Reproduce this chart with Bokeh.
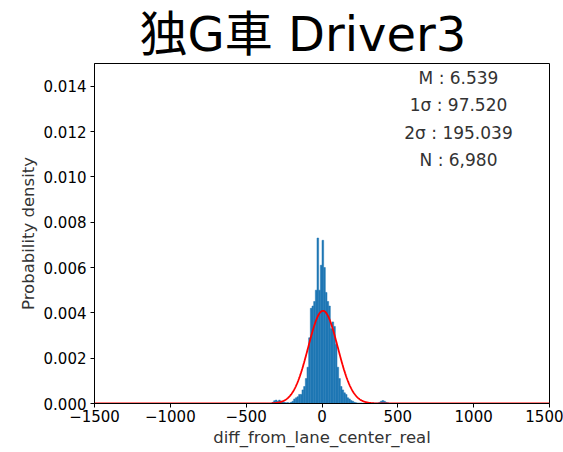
import numpy as np
from bokeh.plotting import figure
from bokeh.models import (Range1d, FixedTicker, NumeralTickFormatter, CustomJSTickFormatter,
                          Title)
from bokeh.core.properties import value
from bokeh.embed import file_html
from bokeh.resources import INLINE

# ---- data ----
title_text = "独G車 Driver3"
mean_val = 6.539
sigma_val = 97.520
two_sigma_val = 195.039
n_val = 6980
bin_start = -330.0
bin_width = 11.0
densities = [
    0.00005, 0.00012, 0.00015, 0.00010, 0.00015, 0.00010, 0.00008, 0.00005,  # -330..
    0.00003, 0.00004, 0.00002, 0.00005, 0.00010, 0.00020, 0.00025, 0.00030,
    0.00040, 0.00040, 0.00060, 0.00075, 0.00110, 0.00160, 0.00290, 0.00420,
    0.00430, 0.00450, 0.00500, 0.00730, 0.00500, 0.00610, 0.00720, 0.00600,
    0.00490, 0.00450, 0.00430, 0.00330, 0.00360, 0.00340, 0.00260, 0.00160,
    0.00110, 0.00075, 0.00060, 0.00047, 0.00040, 0.00025, 0.00020, 0.00013,
    0.00010, 0.00005, 0.00003, 0.00002, 0.00002, 0.00002, 0.00001, 0.00001,
    0.00001, 0.00001, 0.00001, 0.00001, 0.00002, 0.00002, 0.00002, 0.00002,
    0.00005, 0.00010, 0.00013, 0.00010, 0.00005, 0.00003,
]
x_ticks = [-1500, -1000, -500, 0, 500, 1000, 1500]
y_ticks = [0.000, 0.002, 0.004, 0.006, 0.008, 0.010, 0.012, 0.014]
stat_lines = [
    "M : {:.3f}".format(mean_val),
    "1σ : {:.3f}".format(sigma_val),
    "2σ : {:.3f}".format(two_sigma_val),
    "N : {:,}".format(n_val),
]
stat_y = [0.01435, 0.01316, 0.01192, 0.01073]

# ---- derived ----
dens = np.array(densities)
lefts = bin_start + bin_width * np.arange(len(dens))
rights = lefts + bin_width
xs = np.linspace(-1500, 1500, 1201)
pdf = np.exp(-0.5 * ((xs - mean_val) / sigma_val) ** 2) / (sigma_val * np.sqrt(2 * np.pi))

p = figure(width=563, height=452, output_backend="svg", toolbar_location=None,
           x_range=Range1d(-1500, 1500), y_range=Range1d(0, 0.015),
           min_border_left=94, min_border_right=14, min_border_top=63, min_border_bottom=49)
p.title = Title(text=title_text, align="left", offset=45, standoff=4,
                vertical_align="bottom",
                text_font="DejaVu Sans, Noto Sans CJK JP", text_font_size="48px",
                text_font_style="normal", text_color="black")

p.quad(left=lefts, right=rights, bottom=0, top=dens, fill_color="#1f77b4",
       line_color="#1f77b4", line_width=0.5)
p.line(xs, pdf, line_color="red", line_width=1.8)

p.text(x=[900] * 4, y=stat_y, text=stat_lines, text_align="center", text_baseline="middle",
       text_font=value("DejaVu Sans"), text_font_size="17px", text_color="#333333")

p.grid.visible = False
p.outline_line_color = "black"
p.outline_line_width = 1

for ax in (p.xaxis[0], p.yaxis[0]):
    ax.axis_line_color = "black"
    ax.major_tick_line_color = "black"
    ax.major_tick_out = 4
    ax.major_tick_in = 0
    ax.minor_tick_line_color = None
    ax.major_label_text_font = "DejaVu Sans"
    ax.major_label_text_font_size = "15px"
    ax.major_label_text_color = "black"
    ax.axis_label_text_font = "DejaVu Sans"
    ax.axis_label_text_font_size = "16.5px"
    ax.axis_label_text_font_style = "normal"
    ax.axis_label_text_color = "#333333"

p.xaxis.ticker = FixedTicker(ticks=x_ticks)
p.xaxis.formatter = CustomJSTickFormatter(code="return tick < 0 ? '\u2212' + Math.abs(tick) : String(tick);")
p.xaxis.axis_label = "diff_from_lane_center_real"
p.xaxis.major_label_standoff = 2
p.xaxis.axis_label_standoff = 3

p.yaxis.ticker = FixedTicker(ticks=y_ticks)
p.yaxis.formatter = NumeralTickFormatter(format="0.000")
p.yaxis.axis_label = "Probability density"
p.yaxis.major_label_standoff = 4
p.yaxis.axis_label_standoff = 3

open("out.html", "w").write(file_html(p, INLINE))
